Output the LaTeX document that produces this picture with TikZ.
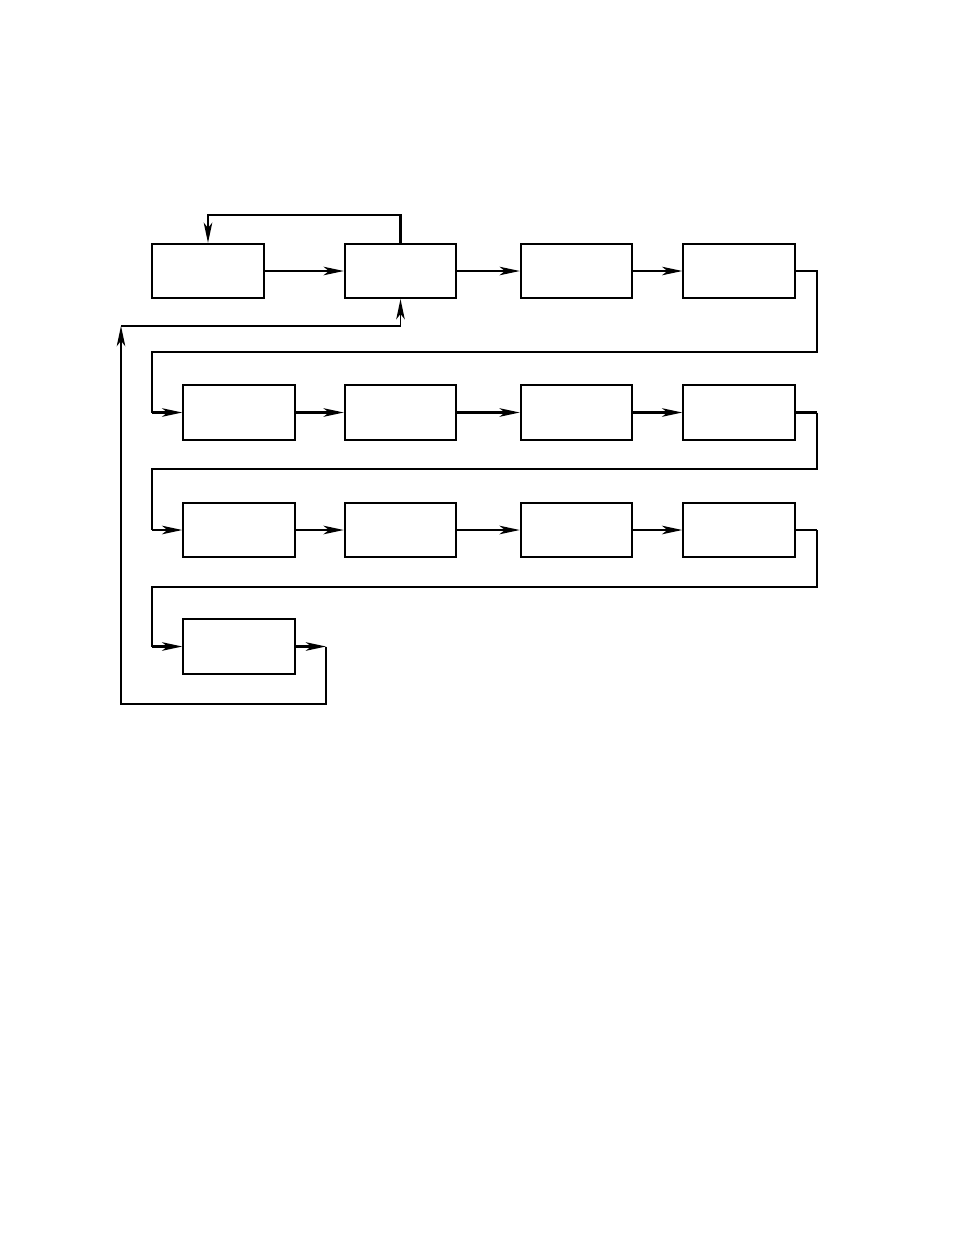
\documentclass[tikz,border=0pt]{standalone}
\usetikzlibrary{arrows.meta}
\begin{document}
\begin{tikzpicture}[x=0.6415pt,y=-0.6415pt,
  box/.style={draw, line width=1.3pt, inner sep=0pt, minimum width=71.5pt, minimum height=34.8pt},
  thinln/.style={line width=0.7pt},
  thickln/.style={line width=1.3pt},
  tip/.style={-{Stealth[length=13pt,width=5.5pt,inset=3.5pt]}}]
\useasboundingbox (0,0) rectangle (954,1235);
% row 1
\node[box] (a1) at (208,271) {};
\node[box] (a2) at (400.5,271) {};
\node[box] (a3) at (576.5,271) {};
\node[box] (a4) at (739,271) {};
% row 2
\node[box] (b1) at (239,412.5) {};
\node[box] (b2) at (400.5,412.5) {};
\node[box] (b3) at (576.5,412.5) {};
\node[box] (b4) at (739,412.5) {};
% row 3
\node[box] (c1) at (239,530) {};
\node[box] (c2) at (400.5,530) {};
\node[box] (c3) at (576.5,530) {};
\node[box] (c4) at (739,530) {};
% row 4
\node[box] (d1) at (239,646.5) {};
% waypoints
\coordinate (topy) at (0,215);
\coordinate (r1) at (817,352);
\coordinate (r2) at (817,469);
\coordinate (r3) at (817,587);
\coordinate (l1) at (152,352);
\coordinate (l2) at (152,469);
\coordinate (l3) at (152,587);
\coordinate (e2) at (817,412.5);
\coordinate (e3) at (817,530);
\coordinate (s1) at (152,412.5);
\coordinate (s2) at (152,530);
\coordinate (s3) at (152,646.5);
\coordinate (q) at (326,646.5);
\coordinate (qb) at (326,704);
\coordinate (lb) at (121,704);
\coordinate (lt) at (121,326);
% row 1 connectors
\draw[thinln,tip] (a1) -- (a2);
\draw[thinln,tip] (a2) -- (a3);
\draw[thinln,tip] (a3) -- (a4);
\draw[thickln,tip] (a2.north) |- (topy -| a1.north) -- (a1.north);
% row 2
\draw[thickln,tip] (b1) -- (b2);
\draw[thickln,tip] (b2) -- (b3);
\draw[thickln,tip] (b3) -- (b4);
% row 3
\draw[thickln,tip] (c1) -- (c2);
\draw[thickln,tip] (c2) -- (c3);
\draw[thickln,tip] (c3) -- (c4);
% wraps
\draw[thinln] (a4.east) -| (r1) -- (l1) -- (s1);
\draw[thickln,tip] (s1) -- (b1.west);
\draw[thickln] (b4.east) -- (e2);
\draw[thinln] (e2) -- (r2) -- (l2) -- (s2);
\draw[thickln,tip] (s2) -- (c1.west);
\draw[thickln] (c4.east) -- (e3);
\draw[thinln] (e3) -- (r3) -- (l3) -- (s3);
\draw[thickln,tip] (s3) -- (d1.west);
% feedback
\draw[thickln,tip] (d1.east) -- (q);
\draw[thinln,tip] (q) -- (qb) -- (lb) -- (lt);
\draw[thinln,tip] (lt) -| (a2.south);
\end{tikzpicture}
\end{document}
